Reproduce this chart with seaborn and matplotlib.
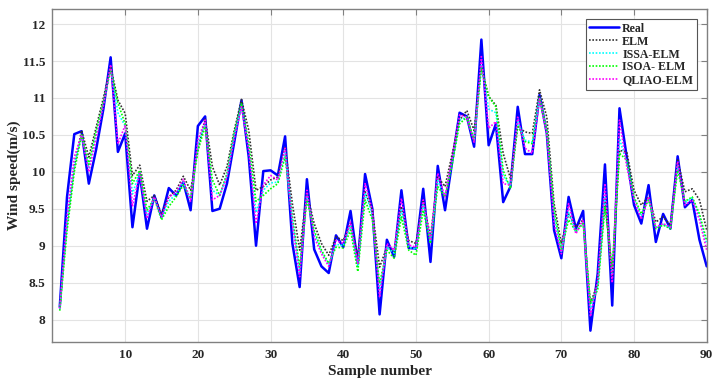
import numpy as np
import pandas as pd
import seaborn as sns
import matplotlib
matplotlib.use("Agg")
import matplotlib.pyplot as plt

sample = list(range(1, 91))

real = [8.17, 9.66, 10.51, 10.55, 9.84, 10.3, 10.85, 11.55, 10.27, 10.52,
        9.25, 9.98, 9.23, 9.68, 9.39, 9.78, 9.68, 9.86, 9.48, 10.62,
        10.75, 9.47, 9.5, 9.84, 10.4, 10.97, 10.2, 9.0, 10.01, 10.02,
        9.95, 10.48, 9.03, 8.44, 9.9, 8.95, 8.72, 8.63, 9.14, 8.98,
        9.47, 8.76, 9.97, 9.5, 8.07, 9.08, 8.85, 9.75, 8.97, 8.96,
        9.77, 8.78, 10.08, 9.48, 10.15, 10.8, 10.75, 10.34, 11.79, 10.36,
        10.65, 9.59, 9.8, 10.88, 10.24, 10.24, 11.04, 10.52, 9.21, 8.83,
        9.66, 9.23, 9.47, 7.85, 8.62, 10.1, 8.19, 10.86, 10.2, 9.55,
        9.3, 9.82, 9.05, 9.43, 9.23, 10.21, 9.52, 9.62, 9.08, 8.72]

elm = [8.15, 9.3, 10.07, 10.56, 10.2, 10.6, 11.0, 11.42, 10.97, 10.79,
       9.95, 10.09, 9.6, 9.68, 9.43, 9.66, 9.75, 9.94, 9.75, 10.29,
       10.72, 10.07, 9.82, 10.07, 10.56, 10.98, 10.56, 9.75, 9.8, 9.89,
       9.93, 10.34, 9.57, 8.94, 9.71, 9.3, 9.03, 8.87, 9.12, 9.07,
       9.3, 8.85, 9.73, 9.48, 8.71, 8.98, 8.92, 9.53, 9.07, 9.03,
       9.6, 9.12, 9.93, 9.8, 10.25, 10.7, 10.83, 10.56, 11.42, 11.02,
       10.9, 10.25, 9.91, 10.61, 10.54, 10.52, 11.11, 10.74, 9.57, 9.03,
       9.43, 9.25, 9.35, 8.22, 8.49, 9.62, 8.6, 10.29, 10.27, 9.75,
       9.55, 9.66, 9.32, 9.39, 9.28, 10.16, 9.73, 9.77, 9.62, 9.21]

issa_elm = [8.14, 9.3, 10.1, 10.5, 10.05, 10.5, 10.92, 11.4, 10.8, 10.62,
            9.7, 10.0, 9.42, 9.65, 9.37, 9.6, 9.7, 9.86, 9.62, 10.35,
            10.66, 9.75, 9.68, 9.95, 10.5, 10.9, 10.35, 9.45, 9.75, 9.85,
            9.86, 10.26, 9.35, 8.65, 9.68, 9.17, 8.92, 8.74, 9.02, 9.0,
            9.27, 8.72, 9.72, 9.42, 8.4, 8.98, 8.9, 9.5, 8.98, 8.95,
            9.55, 9.05, 9.88, 9.66, 10.15, 10.7, 10.74, 10.42, 11.45, 10.85,
            10.8, 9.95, 9.8, 10.68, 10.43, 10.4, 11.0, 10.55, 9.4, 8.92,
            9.45, 9.18, 9.32, 8.15, 8.45, 9.65, 8.6, 10.45, 10.12, 9.64,
            9.4, 9.64, 9.24, 9.29, 9.24, 10.08, 9.58, 9.65, 9.4, 9.02]

isoa_elm = [8.12, 9.2, 10.0, 10.5, 10.1, 10.55, 10.95, 11.38, 10.93, 10.65,
            9.84, 10.02, 9.48, 9.64, 9.35, 9.53, 9.66, 9.82, 9.64, 10.29,
            10.61, 9.89, 9.68, 9.98, 10.52, 10.93, 10.38, 9.6, 9.68, 9.77,
            9.84, 10.2, 9.39, 8.71, 9.62, 9.21, 8.94, 8.76, 8.98, 8.97,
            9.21, 8.65, 9.62, 9.35, 8.49, 8.94, 8.83, 9.39, 8.94, 8.87,
            9.48, 9.03, 9.8, 9.66, 10.11, 10.65, 10.74, 10.43, 11.4, 11.02,
            10.88, 10.02, 9.77, 10.63, 10.41, 10.38, 11.0, 10.56, 9.48, 8.94,
            9.35, 9.19, 9.3, 8.22, 8.4, 9.53, 8.7, 10.25, 10.16, 9.66,
            9.43, 9.62, 9.23, 9.28, 9.23, 10.02, 9.6, 9.66, 9.43, 9.07]

qliao_elm = [8.15, 9.4, 10.2, 10.5, 10.0, 10.45, 10.9, 11.45, 10.38, 10.63,
             9.53, 9.98, 9.37, 9.66, 9.39, 9.66, 9.72, 9.9, 9.6, 10.43,
             10.7, 9.62, 9.68, 9.93, 10.45, 10.88, 10.29, 9.3, 9.82, 9.95,
             9.89, 10.32, 9.3, 8.58, 9.75, 9.12, 8.89, 8.72, 9.07, 9.03,
             9.32, 8.76, 9.84, 9.48, 8.3, 9.03, 8.94, 9.64, 9.01, 8.98,
             9.62, 9.07, 9.98, 9.66, 10.2, 10.77, 10.74, 10.4, 11.56, 10.59,
             10.68, 9.84, 9.82, 10.74, 10.32, 10.25, 10.99, 10.52, 9.3, 8.89,
             9.57, 9.16, 9.35, 8.04, 8.53, 9.84, 8.5, 10.7, 10.07, 9.62,
             9.36, 9.66, 9.25, 9.3, 9.25, 10.14, 9.55, 9.62, 9.35, 8.94]

series_names = ["Real", "ELM", "ISSA-ELM", "ISOA- ELM", "QLIAO-ELM"]
series_values = [real, elm, issa_elm, isoa_elm, qliao_elm]
x_ticks = [10, 20, 30, 40, 50, 60, 70, 80, 90]
y_ticks = [8, 8.5, 9, 9.5, 10, 10.5, 11, 11.5, 12]
y_tick_labels = ["8", "8.5", "9", "9.5", "10", "10.5", "11", "11.5", "12"]

colors = ["#0000ff", "#333333", "#00ffff", "#00ff00", "#ff00ff"]
styles = ["-", (0, (1, 1)), (0, (1, 1)), (0, (1, 1)), (0, (1, 1))]
widths = [1.8, 1.2, 1.2, 1.2, 1.2]

sns.set_theme(style="white")
plt.rcParams["font.family"] = ["Liberation Serif", "DejaVu Serif"]
plt.rcParams["font.weight"] = "bold"

fig = plt.figure(figsize=(7.18, 3.83), dpi=100)
ax = fig.add_axes([0.0731, 0.1078, 0.9112, 0.8679])

for name, vals, c, ls, lw in zip(series_names, series_values, colors, styles, widths):
    df = pd.DataFrame({"Sample": sample, "Value": vals})
    sns.lineplot(data=df, x="Sample", y="Value", ax=ax, color=c,
                 linestyle=ls, linewidth=lw, label=name)

ax.set_xlim(0, 90)
ax.set_ylim(7.7, 12.2)
ax.set_xticks(x_ticks)
ax.set_yticks(y_ticks)
ax.set_yticklabels(y_tick_labels)
ax.grid(True, color="#e3e3e3", linewidth=0.8)
ax.set_axisbelow(True)
for s in ax.spines.values():
    s.set_color("#808080")
    s.set_linewidth(1.0)
ax.tick_params(direction="in", length=4, width=0.8, color="#808080",
               top=True, right=True, labelsize=9.5, labelcolor="#262626", pad=5)
for lab in ax.get_xticklabels() + ax.get_yticklabels():
    lab.set_fontweight("bold")

ax.set_xlabel("Sample number", fontsize=11, fontweight="bold", color="#262626", labelpad=3)
ax.set_ylabel("Wind speed(m/s)", fontsize=11, fontweight="bold", color="#262626", labelpad=1)

leg = ax.legend(loc="upper right", bbox_to_anchor=(0.9885, 0.978), frameon=True,
                fancybox=False, edgecolor="#555555", framealpha=1,
                prop={"family": "Liberation Serif", "weight": "bold", "size": 8.6},
                handlelength=2.5, handletextpad=0.25, borderpad=0.3,
                labelspacing=0.08, borderaxespad=0.2)
leg.get_frame().set_linewidth(0.8)

fig.savefig("out.png", dpi=100)
